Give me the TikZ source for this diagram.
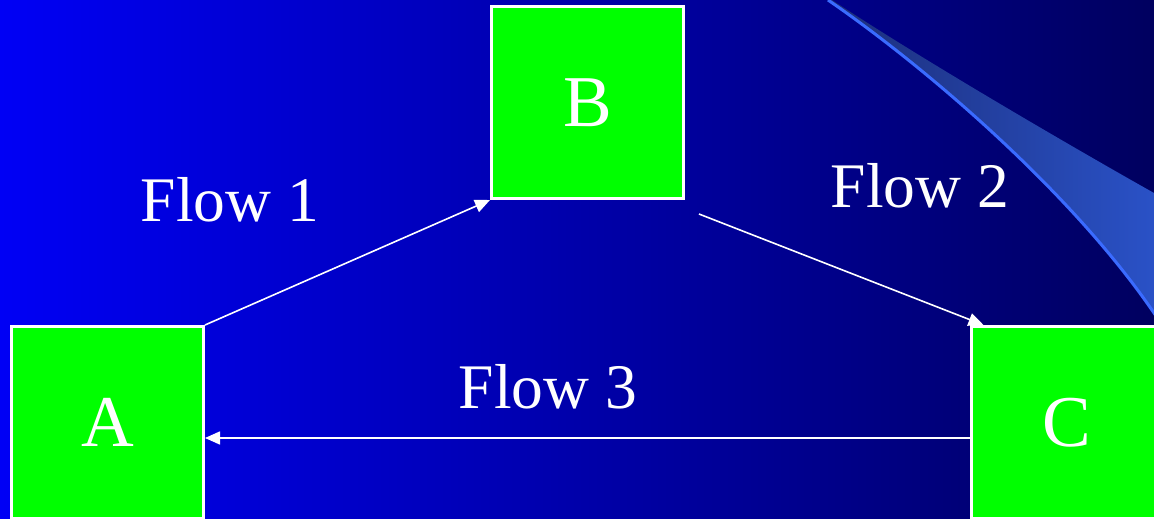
\documentclass[tikz,border=0pt]{standalone}
\usepackage{fontspec}
\setmainfont{Liberation Serif}
\usetikzlibrary{arrows.meta}
\definecolor{bgleft}{RGB}{0,0,245}
\definecolor{bgright}{RGB}{0,0,95}
\definecolor{swoopdark}{RGB}{28,46,122}
\definecolor{swooplight}{RGB}{42,82,200}
\definecolor{swoopedge}{RGB}{58,107,255}
\definecolor{boxgreen}{RGB}{0,255,0}
\tikzset{
  box/.style={draw=white, line width=3pt, fill=boxgreen, inner sep=0pt,
    minimum width=192pt, minimum height=192pt, text=white,
    font=\fontsize{73}{80}\selectfont},
  lbl/.style={text=white, inner sep=0pt, anchor=base,
    font=\fontsize{63.5}{70}\selectfont},
  flow/.style={draw=white, line width=1.6pt,
    -{Triangle[length=15pt,width=13pt]}}
}
\begin{document}
\begin{tikzpicture}[x=1pt,y=-1pt]
\useasboundingbox (0,0) rectangle (1154,519);
\begin{scope}
\clip (0,0) rectangle (1154,519);
\shade[left color=bgleft, right color=bgright] (0,0) rectangle (1154,519);
\shade[left color=swoopdark, right color=swooplight]
  (832,0) .. controls (920,58) and (1060,140) .. (1154,193)
  -- (1160,320) -- (1154,313)
  .. controls (1080,200) and (930,70) .. (828,0) -- cycle;
\draw[swoopedge, line width=3pt]
  (828,0) .. controls (930,70) and (1080,200) .. (1160,322);
\node[box] (A) at (107.5,422.5) {A};
\node[box] (B) at (587.5,102.5) {B};
\node[box] (C) at (1067,422.5) {C};
\coordinate (f2s) at (699,214);
\coordinate (f2e) at ([xshift=14pt]C.north west);
\draw[flow] (A.north east) -- (B.south west);
\draw[flow] (f2s) -- (f2e);
\draw[flow] ([yshift=-15.5pt]C.west) -- ([yshift=-15.5pt]A.east);
\node[lbl] (l1) at (230,221) {Flow 1};
\node[lbl] (l2) at (920,207) {Flow 2};
\node[lbl] (l3) at (548,408) {Flow 3};
\end{scope}
\end{tikzpicture}
\end{document}
